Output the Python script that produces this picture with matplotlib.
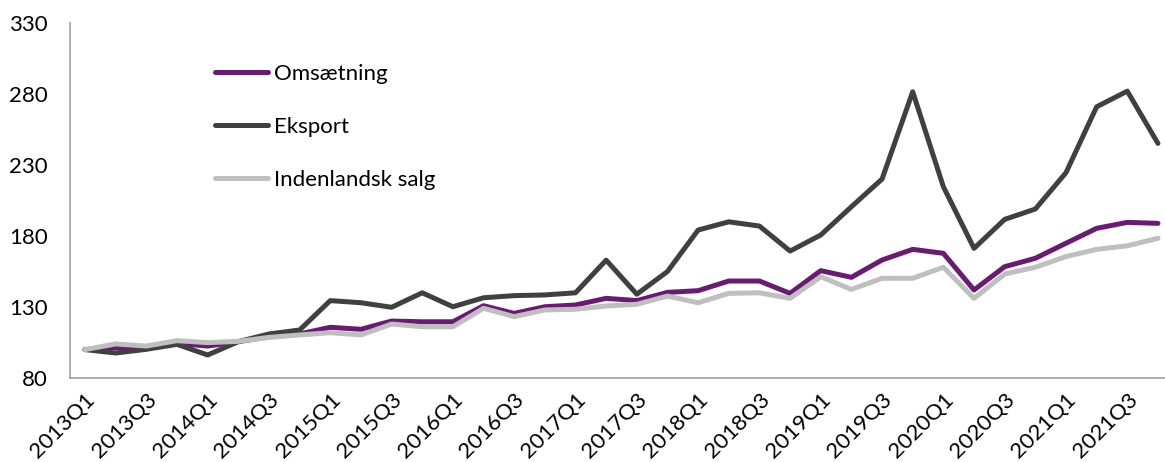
import matplotlib.pyplot as plt
import numpy as np

# quarterly index, 2013Q1 = 100
quarters = [f"{y}Q{q}" for y in range(2013, 2022) for q in range(1, 5)]

omsaetning = [100, 101.3, 101, 104.4, 102.5, 105.6, 109, 111, 115.7, 114.3, 120.1, 119.6,
              119.6, 130.9, 125.5, 130.2, 131.4, 136.1, 134.5, 140.3, 141.5, 148.3, 148.3, 139.6,
              155.6, 150.9, 163.1, 170.6, 167.8, 142, 158.4, 164.3, 174.9, 185.4, 189.6, 188.9]
eksport = [100, 97.6, 100.2, 103.7, 96.2, 105.6, 111, 113.8, 134.5, 133, 129.8, 140,
           130.2, 136.5, 138, 138.5, 140, 163, 139, 155, 184.2, 190, 187, 169.4,
           180.7, 200.6, 220.1, 281.6, 214.7, 171.3, 191.7, 199, 224.6, 271, 282, 245.2]
indenlandsk = [100, 104, 102.5, 106.3, 104.9, 105.8, 108.6, 110.3, 111.9, 110.3, 118, 116.1,
               116.1, 129.1, 123.2, 127.9, 128.4, 130.7, 131.9, 137.7, 133, 139.6, 140, 136.1,
               151.3, 142.4, 150.2, 150.2, 158, 136.1, 153.2, 158, 165.5, 170.6, 173.1, 178.4]

plt.rcParams['font.family'] = ['Lato', 'DejaVu Sans']

fig = plt.figure(figsize=(11.65, 4.62), dpi=100)
ax = fig.add_axes([70/1165, 1 - 378/462, 1095/1165, 355/462])

x = np.arange(len(quarters))
ax.plot(x, omsaetning, color='#6B1A73', lw=3.6, label='Omsætning', solid_capstyle='round')
ax.plot(x, eksport, color='#404040', lw=3.6, label='Eksport', solid_capstyle='round')
ax.plot(x, indenlandsk, color='#BFBFBF', lw=3.6, label='Indenlandsk salg', solid_capstyle='round')

ax.set_xlim(-0.49, 35.23)
ax.set_ylim(80, 330)
ax.set_yticks(range(80, 331, 50))
ax.set_xticks(x[::2])
ax.set_xticklabels(quarters[::2], rotation=45, ha='right', rotation_mode='anchor')

for s in ['top', 'right']:
    ax.spines[s].set_visible(False)
for s in ['left', 'bottom']:
    ax.spines[s].set_color('#A0A0A0')
    ax.spines[s].set_linewidth(1.2)

ax.tick_params(axis='y', length=0, pad=16, labelsize=16)
ax.tick_params(axis='x', length=0, pad=8, labelsize=16)

ax.legend(loc='upper left', bbox_to_anchor=(0.132, 0.884), frameon=False, fontsize=16,
          handlelength=2.4, handletextpad=0.27, labelspacing=1.47, borderpad=0, borderaxespad=0)

fig.savefig('out.png', dpi=100)
